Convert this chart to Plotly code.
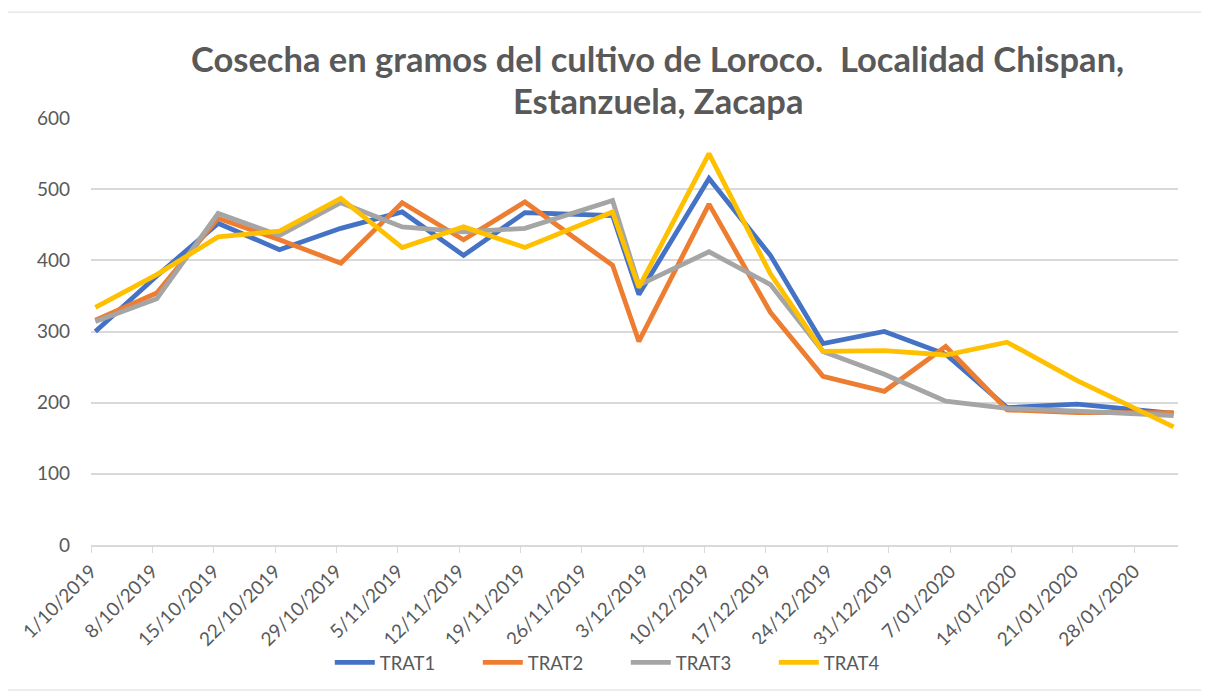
import plotly.graph_objects as go
import pandas as pd

dates = ["2019-10-01", "2019-10-08", "2019-10-15", "2019-10-22", "2019-10-29",
         "2019-11-05", "2019-11-12", "2019-11-19", "2019-11-29", "2019-12-02",
         "2019-12-10", "2019-12-17", "2019-12-23", "2019-12-30", "2020-01-06",
         "2020-01-13", "2020-01-21", "2020-02-01"]

trat1 = [300, 378, 452, 415, 445, 468, 407, 467, 463, 352, 515, 407, 283, 300, 268, 193, 198, 185]
trat2 = [316, 354, 459, 429, 396, 481, 429, 482, 393, 286, 479, 327, 237, 216, 279, 190, 186, 186]
trat3 = [314, 346, 466, 435, 481, 447, 440, 445, 484, 365, 412, 366, 272, 240, 202, 192, 188, 182]
trat4 = [334, 380, 433, 441, 487, 418, 447, 418, 468, 362, 550, 381, 272, 273, 267, 285, 231, 166]

series_names = ["TRAT1", "TRAT2", "TRAT3", "TRAT4"]
colors = ["#4472C4", "#ED7D31", "#A5A5A5", "#FFC000"]

tick_dates = ["2019-10-01", "2019-10-08", "2019-10-15", "2019-10-22", "2019-10-29",
              "2019-11-05", "2019-11-12", "2019-11-19", "2019-11-26", "2019-12-03",
              "2019-12-10", "2019-12-17", "2019-12-24", "2019-12-31", "2020-01-07",
              "2020-01-14", "2020-01-21", "2020-01-28"]
tick_text = ["1/10/2019", "8/10/2019", "15/10/2019", "22/10/2019", "29/10/2019",
             "5/11/2019", "12/11/2019", "19/11/2019", "26/11/2019", "3/12/2019",
             "10/12/2019", "17/12/2019", "24/12/2019", "31/12/2019", "7/01/2020",
             "14/01/2020", "21/01/2020", "28/01/2020"]

title_line1 = "Cosecha en gramos del cultivo de Loroco.  Localidad Chispan,"
title_line2 = "Estanzuela, Zacapa"

# Excel date axis draws each day's point in the middle of the day
x_vals = pd.to_datetime(dates) + pd.Timedelta(hours=12)

fig = go.Figure()
for name, vals, col in zip(series_names, [trat1, trat2, trat3, trat4], colors):
    fig.add_trace(go.Scatter(x=x_vals, y=vals, mode="lines", name=name,
                             line=dict(color=col, width=4.8)))

font_family = "Lato, Open Sans, sans-serif"
txt = "#595959"

# page body has an 8px margin, so the figure is shrunk by 8px and margins shifted
fig.update_layout(
    width=1201, height=686,
    margin=dict(l=83, r=31, t=110, b=149, autoexpand=False),
    paper_bgcolor="white", plot_bgcolor="white",
    font=dict(family=font_family, color=txt),
    showlegend=True,
    legend=dict(orientation="h", x=0.492, xanchor="center", y=-0.276, yanchor="middle",
                font=dict(size=18.5, color=txt), itemwidth=40, traceorder="normal",
                entrywidth=93, entrywidthmode="pixels"),
    xaxis=dict(type="date", range=["2019-10-01", "2020-02-02"],
               tickmode="array", tickvals=tick_dates, ticktext=tick_text,
               tickangle=-45, tickfont=dict(size=19, color=txt),
               showgrid=False, showline=True, linecolor="#d9d9d9", linewidth=1.5,
               ticks="outside", ticklen=6, tickcolor="#d9d9d9", zeroline=False),
    yaxis=dict(range=[0, 600], tickvals=[0, 100, 200, 300, 400, 500, 600],
               tickfont=dict(size=19, color=txt), showgrid=True, gridcolor="#d9d9d9",
               gridwidth=1.5, zeroline=False, showline=False, ticklabelstandoff=20),
    annotations=[
        dict(text="<b>" + title_line1 + "</b>", xref="paper", yref="paper",
             x=0.5216, y=1.1405, xanchor="center", yanchor="middle", showarrow=False,
             font=dict(size=34.5, color=txt, family=font_family)),
        dict(text="<b>" + title_line2 + "</b>", xref="paper", yref="paper",
             x=0.5216, y=1.042, xanchor="center", yanchor="middle", showarrow=False,
             font=dict(size=34.5, color=txt, family=font_family)),
    ],
    shapes=[dict(type="rect", xref="paper", yref="paper",
                 x0=-0.0782, x1=1.023, y0=-0.3396, y1=1.248,
                 line=dict(color="#d9d9d9", width=1), fillcolor="rgba(0,0,0,0)")],
)

fig.write_html("out.html")
